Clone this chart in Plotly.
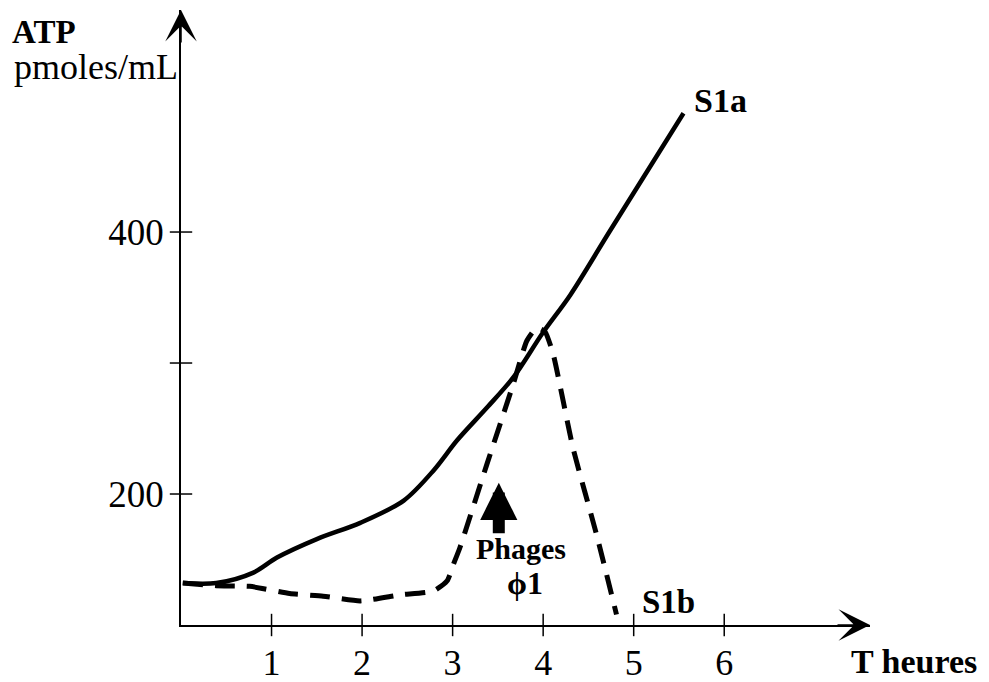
import plotly.graph_objects as go

# ---- data ----
s1a_t = [0.02, 0.39, 0.80, 1.06, 1.50, 1.98, 2.46, 2.79, 3.05, 3.38, 3.67, 4.00, 4.30, 4.73, 5.55]
s1a_atp = [132, 132, 140, 151.5, 165.6, 178, 195, 218, 241, 266, 289, 323.5, 352, 400, 490.7]

s1b_t = [0.02, 0.39, 0.76, 1.20, 1.57, 1.98, 2.42, 2.79, 2.94, 3.01, 3.08, 3.38, 3.67, 3.82, 3.93, 4.02, 4.11, 4.33, 4.59, 4.81]
s1b_atp = [132, 130, 129.5, 124, 122, 118.4, 123, 126, 133.7, 146.5, 159, 223, 284, 317, 327, 324, 307, 235, 169, 108]

x_ticks = [1, 2, 3, 4, 5, 6]
x_tick_labels = ["1", "2", "3", "4", "5", "6"]
y_tick_marks = [200, 300, 400]
y_tick_vals = [200, 400]
y_tick_labels = ["200", "400"]

X_MAX = 7.61
Y_MIN, Y_MAX = 100, 569.5

SERIF = "Liberation Serif, Times New Roman, serif"

fig = go.Figure()

fig.add_trace(go.Scatter(
    x=s1a_t, y=s1a_atp, mode="lines",
    line=dict(color="black", width=4.5, shape="spline", smoothing=0.9),
    showlegend=False, hoverinfo="skip"))

fig.add_trace(go.Scatter(
    x=s1b_t, y=s1b_atp, mode="lines",
    line=dict(color="black", width=5, dash="20px,12px", shape="spline", smoothing=0.5),
    showlegend=False, hoverinfo="skip"))

# crossing tick marks
fig.add_trace(go.Scatter(
    x=x_ticks, y=[Y_MIN] * len(x_ticks), mode="markers", cliponaxis=False,
    marker=dict(symbol="line-ns", size=16, line=dict(color="black", width=1.5)),
    showlegend=False, hoverinfo="skip"))
fig.add_trace(go.Scatter(
    x=[0] * len(y_tick_marks), y=y_tick_marks, mode="markers", cliponaxis=False,
    marker=dict(symbol="line-ew", size=16, line=dict(color="black", width=1.5)),
    showlegend=False, hoverinfo="skip"))

annotations = [
    # axis arrowheads
    dict(x=0, y=Y_MAX, xref="x", yref="y", ax=0, ay=34, text="", showarrow=True,
         arrowhead=3, arrowwidth=1.5, arrowsize=3.5, arrowcolor="black"),
    dict(x=X_MAX, y=Y_MIN, xref="x", yref="y", ax=-34, ay=0, text="", showarrow=True,
         arrowhead=3, arrowwidth=1.5, arrowsize=3.5, arrowcolor="black"),
    # phage arrow
    dict(x=3.51, y=208.6, xref="x", yref="y", ax=0, ay=52, text="", showarrow=True,
         arrowhead=2, arrowwidth=12, arrowsize=0.62, arrowcolor="black"),
    # texts
    dict(x=44, y=32, xref="paper", yref="paper", text="<b>ATP</b>", showarrow=False,
         font=dict(family=SERIF, size=33, color="black")),
    dict(x=96, y=67, xref="paper", yref="paper", text="pmoles/mL", showarrow=False,
         font=dict(family=SERIF, size=36, color="black")),
    dict(x=720, y=101, xref="paper", yref="paper", text="<b>S1a</b>", showarrow=False,
         font=dict(family=SERIF, size=34, color="black")),
    dict(x=668, y=602, xref="paper", yref="paper", text="<b>S1b</b>", showarrow=False,
         font=dict(family=SERIF, size=33, color="black")),
    dict(x=521, y=548, xref="paper", yref="paper", text="<b>Phages</b>", showarrow=False,
         font=dict(family=SERIF, size=30, color="black")),
    dict(x=525, y=583, xref="paper", yref="paper", text="<b>ϕ1</b>", showarrow=False,
         font=dict(family=SERIF, size=32, color="black")),
    dict(x=914, y=661, xref="paper", yref="paper", text="<b>T heures</b>", showarrow=False,
         font=dict(family=SERIF, size=34, color="black")),
]

# convert pixel-placed text annotations to paper coords
W, H = 989, 682
ML, MR, MT, MB = 181, W - 870, 10, H - 625
pw, ph = W - ML - MR, H - MT - MB
for a in annotations:
    if a.get("xref") == "paper":
        a["x"] = (a["x"] - ML) / pw
        a["y"] = 1 - (a["y"] - MT) / ph
        a["xanchor"] = "center"
        a["yanchor"] = "middle"

fig.update_layout(
    width=W, height=H,
    margin=dict(l=ML, r=MR, t=MT, b=MB),
    paper_bgcolor="white", plot_bgcolor="white",
    font=dict(family=SERIF, color="black"),
    annotations=annotations,
    xaxis=dict(range=[0, X_MAX], showgrid=False, zeroline=False, showline=True,
               linecolor="black", linewidth=1.5, ticks="", automargin=False,
               tickvals=x_ticks, ticktext=x_tick_labels, ticklabelstandoff=5,
               tickfont=dict(family=SERIF, size=36, color="black")),
    yaxis=dict(range=[Y_MIN, Y_MAX], showgrid=False, zeroline=False, showline=True,
               linecolor="black", linewidth=1.5, ticks="", automargin=False,
               tickvals=y_tick_vals, ticktext=y_tick_labels, ticklabelstandoff=8,
               tickfont=dict(family=SERIF, size=37, color="black")),
)

fig.write_html("out.html")
